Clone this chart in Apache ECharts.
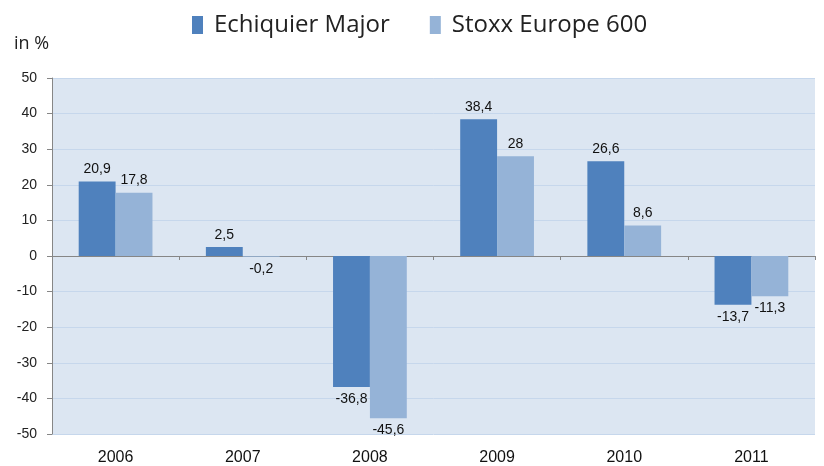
<!DOCTYPE html>
<html>
<head>
<meta charset="utf-8">
<script src="https://cdn.jsdelivr.net/npm/echarts@6/dist/echarts.min.js"></script>
<style>html,body{margin:0;padding:0;background:#fff}#c{width:824px;height:466px}</style>
</head>
<body>
<div id="c"></div>
<script>
var categories = ['2006', '2007', '2008', '2009', '2010', '2011'];
var echiquier = [20.9, 2.5, -36.8, 38.4, 26.6, -13.7];
var stoxx = [17.8, -0.2, -45.6, 28, 8.6, -11.3];
var seriesNames = ['Echiquier Major', 'Stoxx Europe 600'];
var yTicks = { min: -50, max: 50, interval: 10 };

function fmt(v) { return String(v).replace('.', ','); }
function toData(arr) {
  return arr.map(function (v) {
    return { value: v, label: { position: v < 0 ? 'bottom' : 'top' } };
  });
}

var labelStyle = { show: true, fontFamily: 'Liberation Sans', fontSize: 14, color: '#111', distance: 5,
  formatter: function (p) { return fmt(p.value); } };

var chart = echarts.init(document.getElementById('c'));
chart.setOption({
  animation: false,
  backgroundColor: '#ffffff',
  title: {
    text: 'in %', left: 9, top: 30,
    textStyle: { fontFamily: 'Open Sans', fontSize: 18, fontWeight: 'normal', color: '#222' }
  },
  legend: {
    data: seriesNames, top: 8, left: 187, itemWidth: 11, itemHeight: 18, itemGap: 40,
    icon: 'rect',
    textStyle: { fontFamily: 'Open Sans', fontSize: 24, color: '#222', padding: [0, 0, 0, 6] }
  },
  grid: {
    left: 52, right: 9, top: 78, bottom: 32, show: true,
    backgroundColor: '#dce6f2', borderWidth: 0
  },
  xAxis: [{
    type: 'category', data: categories, position: 'bottom',
    axisLine: { show: true, onZero: true, lineStyle: { color: '#868686', width: 1 } },
    axisTick: { show: true, length: 4, lineStyle: { color: '#868686' } },
    axisLabel: { show: false }
  }, {
    type: 'category', data: categories, position: 'bottom',
    axisLine: { show: false, onZero: false }, axisTick: { show: false },
    axisLabel: { margin: 16, fontFamily: 'Liberation Sans', fontSize: 16, color: '#111' }
  }],
  yAxis: {
    type: 'value', min: yTicks.min, max: yTicks.max, interval: yTicks.interval,
    axisLine: { show: true, lineStyle: { color: '#868686' } },
    axisTick: { show: true, length: 5, lineStyle: { color: '#868686' } },
    splitLine: { show: true, lineStyle: { color: '#c6d7ec', width: 1 } },
    axisLabel: { fontFamily: 'Liberation Sans', fontSize: 14, color: '#222', margin: 15 }
  },
  series: [{
    name: seriesNames[0], type: 'bar', xAxisIndex: 1, data: toData(echiquier),
    barGap: '0%', barCategoryGap: '42%',
    itemStyle: { color: '#4f81bd' },
    label: labelStyle
  }, {
    name: seriesNames[1], type: 'bar', xAxisIndex: 1, data: toData(stoxx),
    barGap: '0%', barCategoryGap: '42%',
    itemStyle: { color: '#95b3d7' },
    label: labelStyle
  }]
});
</script>
</body>
</html>
